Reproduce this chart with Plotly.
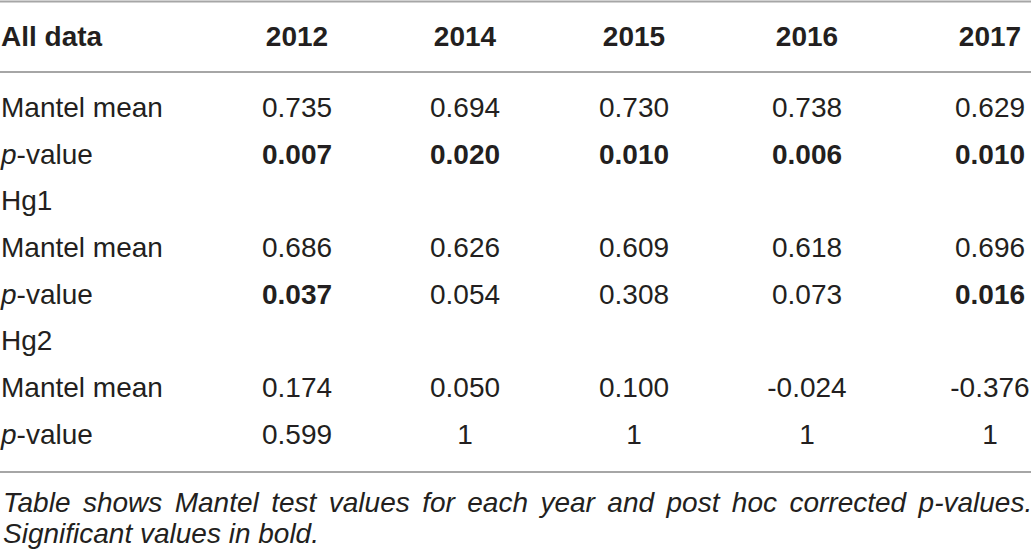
import plotly.graph_objects as go

# ---- data ----
header_label = "All data"
years = ["2012", "2014", "2015", "2016", "2017"]
row_labels = ["Mantel mean", "<i>p</i>-value", "Hg1", "Mantel mean", "<i>p</i>-value",
              "Hg2", "Mantel mean", "<i>p</i>-value"]
all_mean = ["0.735", "0.694", "0.730", "0.738", "0.629"]
all_p = ["0.007", "0.020", "0.010", "0.006", "0.010"]
hg1_mean = ["0.686", "0.626", "0.609", "0.618", "0.696"]
hg1_p = ["0.037", "0.054", "0.308", "0.073", "0.016"]
hg2_mean = ["0.174", "0.050", "0.100", "-0.024", "-0.376"]
hg2_p = ["0.599", "1", "1", "1", "1"]
caption = ["Table shows Mantel test values for each year and post hoc corrected p-values.",
           "Significant values in bold."]

# rows of values (None = group header row with no values)
value_rows = [all_mean, all_p, None, hg1_mean, hg1_p, None, hg2_mean, hg2_p]
is_p_row = [False, True, False, False, True, False, False, True]

# ---- layout constants ----
W, H = 1031, 555
col_x = [297, 465, 634, 807, 990]
label_x = 1
header_y = 39
row_y0 = 110
row_step = 46.65
FONT = "Liberation Sans, Arial, sans-serif"
TXT = "#231f20"
FS = 28

fig = go.Figure()

# header
fig.add_trace(go.Scatter(x=[label_x], y=[header_y], mode="text",
                         text=[f"<b>{header_label}</b>"], textposition="middle right",
                         textfont=dict(family=FONT, size=FS, color=TXT),
                         hoverinfo="skip", showlegend=False))
fig.add_trace(go.Scatter(x=col_x, y=[header_y] * len(years), mode="text",
                         text=[f"<b>{y}</b>" for y in years], textposition="middle center",
                         textfont=dict(family=FONT, size=FS, color=TXT),
                         hoverinfo="skip", showlegend=False))

# row labels
row_ys = [row_y0 + i * row_step for i in range(len(row_labels))]
fig.add_trace(go.Scatter(x=[label_x] * len(row_labels), y=row_ys, mode="text",
                         text=row_labels, textposition="middle right",
                         textfont=dict(family=FONT, size=FS, color=TXT),
                         hoverinfo="skip", showlegend=False))

# values
xs, ys, ts = [], [], []
for ry, vals, isp in zip(row_ys, value_rows, is_p_row):
    if vals is None:
        continue
    for cx, v in zip(col_x, vals):
        sig = isp and float(v) < 0.05
        xs.append(cx)
        ys.append(ry)
        ts.append(f"<b>{v}</b>" if sig else v)
fig.add_trace(go.Scatter(x=xs, y=ys, mode="text", text=ts, textposition="middle center",
                         textfont=dict(family=FONT, size=FS, color=TXT),
                         hoverinfo="skip", showlegend=False))

# rules
for yy in [1.5, 72, 472]:
    fig.add_shape(type="line", x0=0, x1=W, y0=yy, y1=yy, xref="x", yref="y",
                  line=dict(color="#a6a6a6", width=2))

# caption (first line justified with extra narrow spaces)
cap_lines = [caption[0].replace(" ", " \u2006"), caption[1]]
for i, line in enumerate(cap_lines):
    fig.add_annotation(x=label_x, y=502 + i * 31, xref="x", yref="y", text=f"<i>{line}</i>",
                       showarrow=False, xanchor="left", yanchor="middle",
                       font=dict(family=FONT, size=FS, color=TXT))

fig.update_layout(width=W, height=H, margin=dict(l=0, r=0, t=0, b=0),
                  paper_bgcolor="white", plot_bgcolor="white",
                  xaxis=dict(range=[0, W], visible=False, fixedrange=True),
                  yaxis=dict(range=[H, 0], visible=False, fixedrange=True))

fig.write_html("out.html", config={"displayModeBar": False},
               post_script="document.body.style.margin='0';document.body.style.overflow='hidden';")
